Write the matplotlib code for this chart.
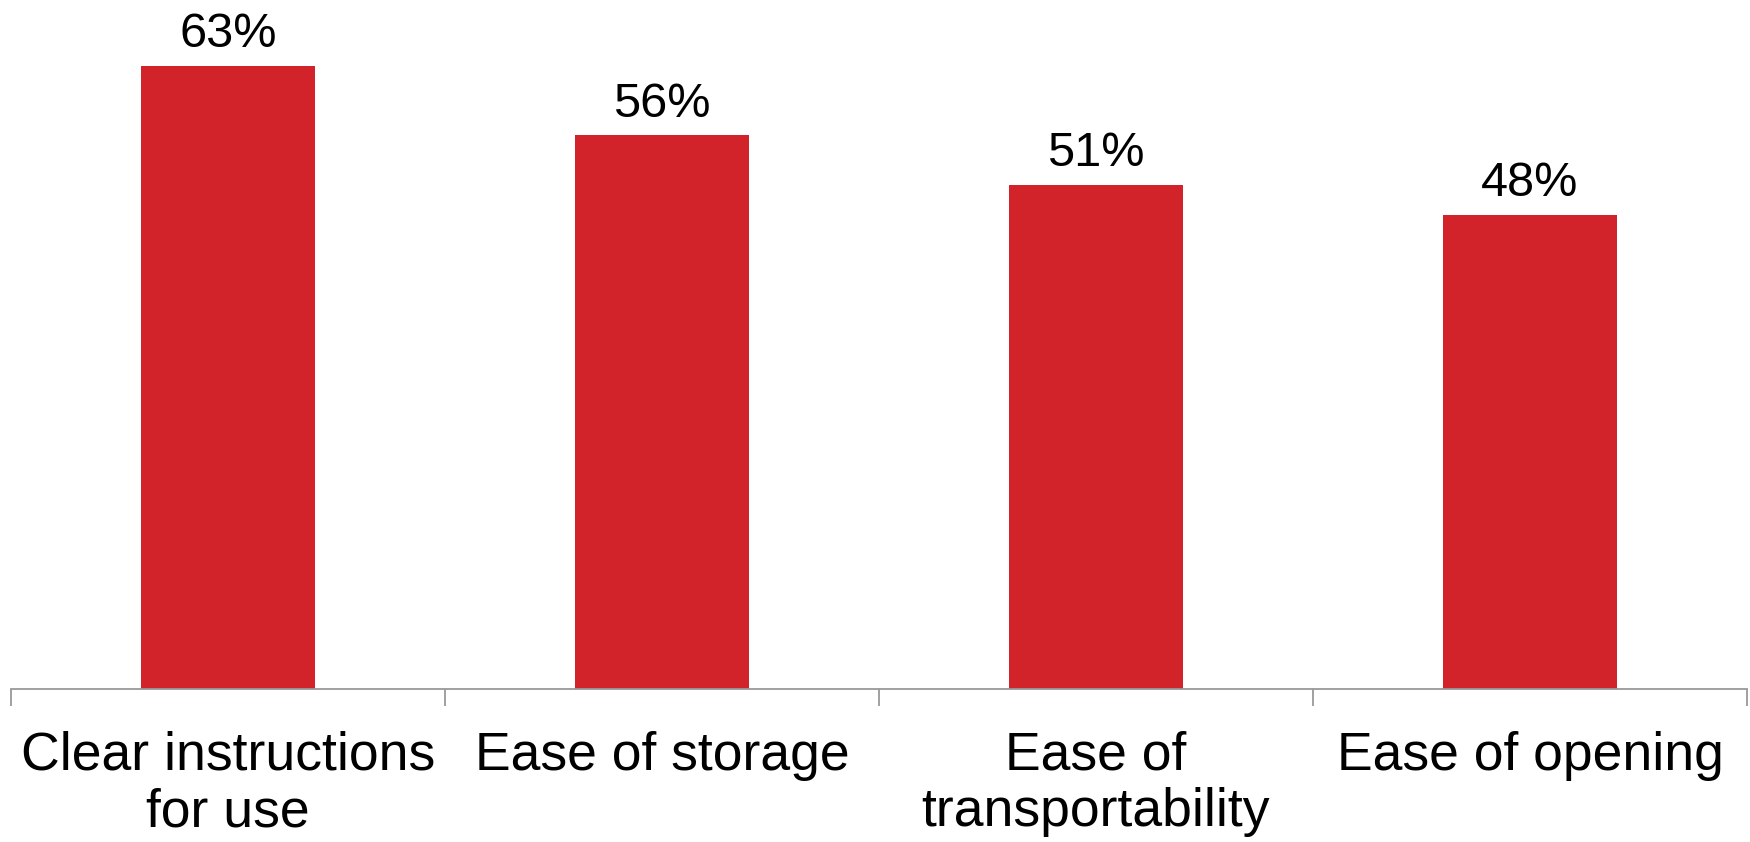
import matplotlib.pyplot as plt

plt.rcParams['font.family'] = ['Liberation Sans', 'DejaVu Sans']

categories = ['Clear instructions\nfor use', 'Ease of storage', 'Ease of\ntransportability', 'Ease of opening']
values = [63, 56, 51, 48]

bar_color = '#D2232A'
axis_color = '#999999'

fig = plt.figure(figsize=(17.5, 8.42), dpi=100)
ax = fig.add_axes([11 / 1750, 153 / 842, 1736 / 1750, 689 / 842])

x = range(len(categories))
ax.bar(x, values, width=0.4, color=bar_color, zorder=2)

for xi, v in zip(x, values):
    ax.annotate('{}%'.format(v), (xi, v), xytext=(0, 13.5), textcoords='offset points',
                ha='center', va='baseline', fontsize=35, color='black')

ax.set_xlim(-0.5, len(categories) - 0.5)
ax.set_ylim(0, 69.7)

# boundary ticks between categories, labels centred under bars
ax.set_xticks([i - 0.5 for i in range(len(categories) + 1)])
ax.set_xticklabels([])
ax.set_xticks(list(x), minor=True)
ax.set_xticklabels(categories, minor=True, fontsize=38.5, linespacing=1.17)
ax.tick_params(axis='x', which='major', length=12.5, width=1.3, color=axis_color, direction='out')
ax.tick_params(axis='x', which='minor', length=0, pad=30)

ax.set_yticks([])
for side in ['top', 'right', 'left']:
    ax.spines[side].set_visible(False)
ax.spines['bottom'].set_color(axis_color)
ax.spines['bottom'].set_linewidth(1.3)

fig.savefig('out.png', dpi=100)
